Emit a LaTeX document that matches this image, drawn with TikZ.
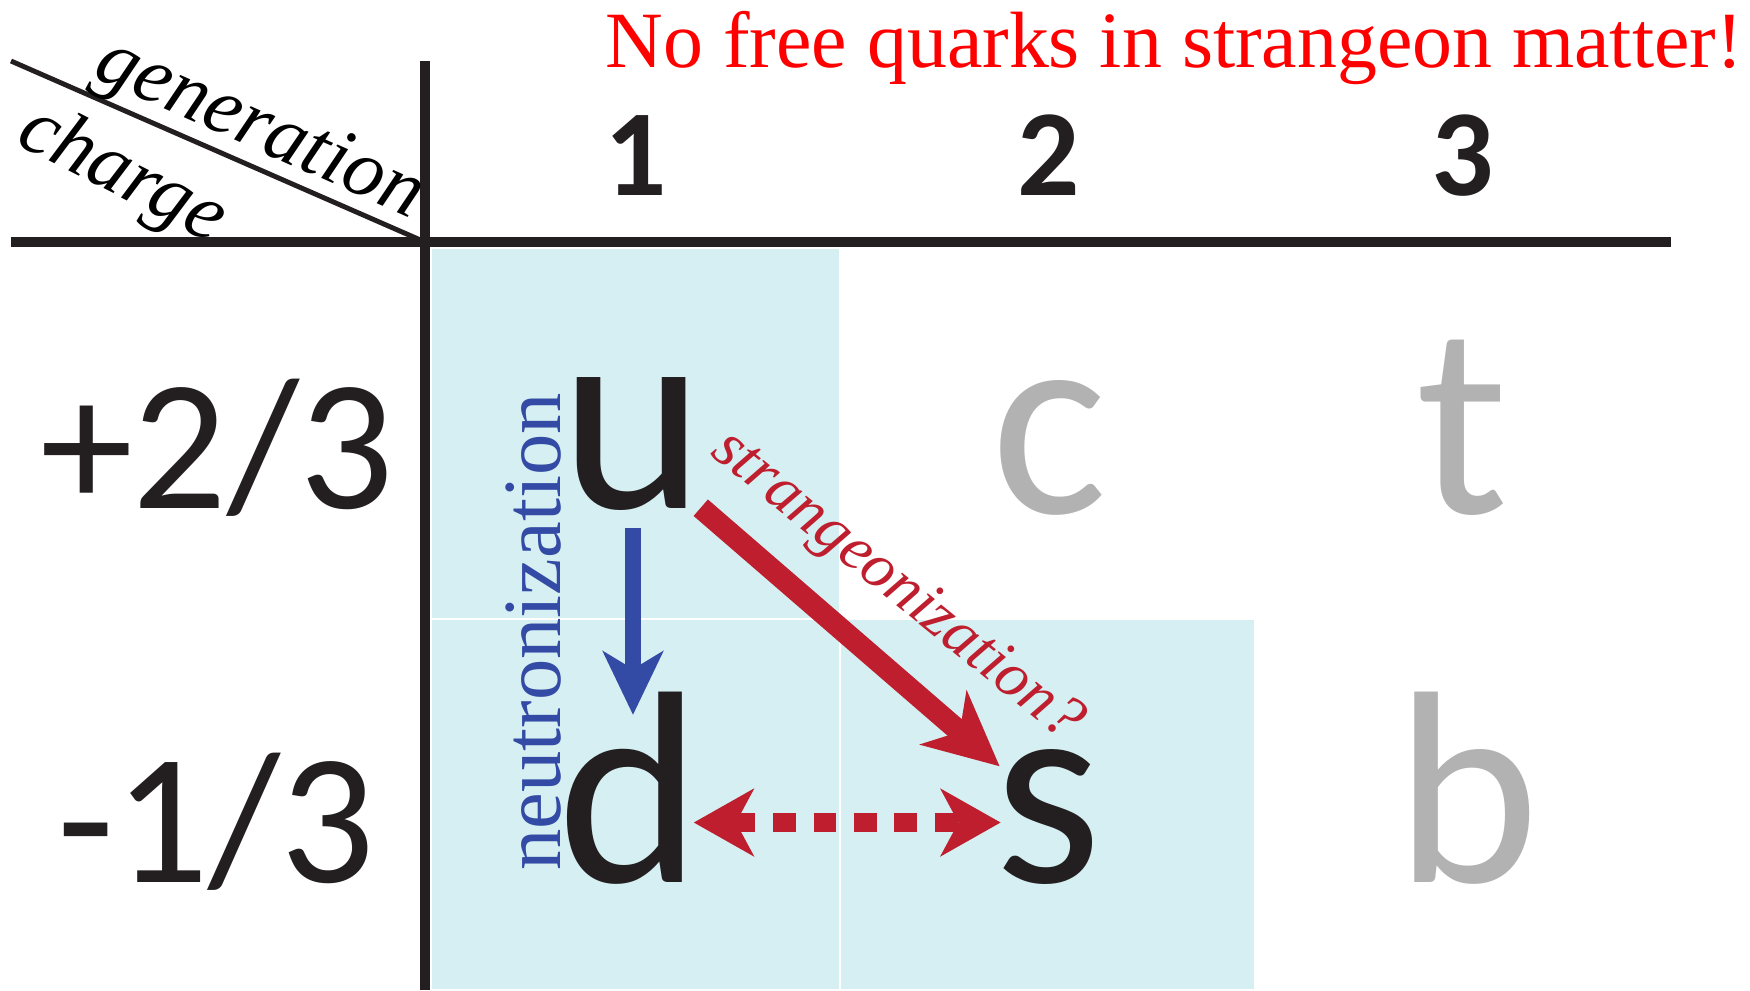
\documentclass[tikz,border=0pt]{standalone}
\usepackage{fontspec}
\setmainfont{Liberation Serif}
\newfontfamily\calibri{Carlito}
\usetikzlibrary{arrows.meta, positioning}

\definecolor{cellcyan}{RGB}{213,239,242}
\definecolor{quarkred}{RGB}{190,30,45}
\definecolor{quarkblue}{RGB}{51,75,165}
\definecolor{quarkgray}{RGB}{178,178,178}
\definecolor{inkblack}{RGB}{35,31,32}

\begin{document}
\begin{tikzpicture}[
  x=0.01cm, y=-0.01cm,
  cell/.style={fill=cellcyan, draw=white, line width=0.5pt},
  rule/.style={draw=inkblack, line width=3pt},
  gen/.style={font=\calibri\bfseries\fontsize{35}{35}\selectfont, text=inkblack,
              inner sep=0pt, anchor=base},
  chg/.style={font=\calibri\fontsize{53}{53}\selectfont, text=inkblack,
              inner sep=0pt, anchor=base},
  quark/.style={font=\calibri\fontsize{78}{78}\selectfont, text=inkblack,
                inner sep=0pt, anchor=base},
  heavy/.style={quark, text=quarkgray},
  axislbl/.style={font=\itshape\fontsize{23}{23}\selectfont, inner sep=0pt},
  neuarr/.style={-{Stealth[length=18pt, width=17pt, inset=5pt]}, quarkblue, line width=4.8pt},
  strarr/.style={-{Stealth[length=21pt, width=20pt, inset=6pt]}, quarkred, line width=6.2pt},
  swaparr/.style={{Stealth[length=17pt, width=19pt, inset=5pt]}-{Stealth[length=17pt, width=19pt, inset=5pt]},
                  quarkred, line width=5.4pt, dash pattern=on 6.5pt off 5pt}
]
\useasboundingbox (0,0) rectangle (1750,990);

% shaded cells
\path[cell] (431,248) rectangle (840,619);
\path[cell] (431,619) rectangle (840,990);
\path[cell] (840,619) rectangle (1255,990);

% table rules
\draw[rule] (11,242) -- (1671,242);
\draw[rule] (425,61) -- (425,990);
\draw[draw=inkblack, line width=1.4pt] (11,61) -- (425,242);

\node[axislbl, rotate=-24] (genlbl) at (259,131) {generation};
\node[axislbl, rotate=-27] (chglbl) at (122,176) {charge};

\node[anchor=base west, text=red, inner sep=0pt, font=\fontsize{22.7}{22.7}\selectfont]
  (title) at (605,67) {No free quarks in strangeon matter!};

% generations
\node[gen] (g1) at (636,195) {1};
\node[gen] (g2) at (1049,195) {2};
\node[gen] (g3) at (1463,195) {3};

% charges
\node[chg] (up)   at (217,508) {+2/3};
\node[chg] (down) at (216,882) {-1/3};

% quarks
\node[quark] (u) at (633,508) {u};
\node[heavy] (c) at (1049,513) {c};
\node[heavy] (t) at (1462,513) {t};
\node[quark] (d) at (630,882) {d};
\node[quark] (s) at (1048,882) {s};
\node[heavy] (b) at (1468,882) {b};

\draw[neuarr] ([yshift=-0.17cm]u.south) -- ([yshift=-0.24cm]u.south |- d.north);
\draw[strarr] ([xshift=-0.05cm, yshift=0.03cm]u.south east) -- ([xshift=0.06cm, yshift=-0.18cm]s.north west);
\draw[swaparr] ([xshift=-0.09cm, yshift=-0.06cm]d.east |- s.west) -- ([xshift=0.07cm, yshift=-0.06cm]s.west);

\node[rotate=90, text=quarkblue, inner sep=0pt, font=\fontsize{23.5}{23.5}\selectfont]
  (neulbl) at (534,632) {neutronization};
\node[rotate=-39, text=quarkred, inner sep=0pt, font=\itshape\fontsize{18}{18}\selectfont]
  (strlbl) at (896,587) {strangeonization?};

\end{tikzpicture}
\end{document}
